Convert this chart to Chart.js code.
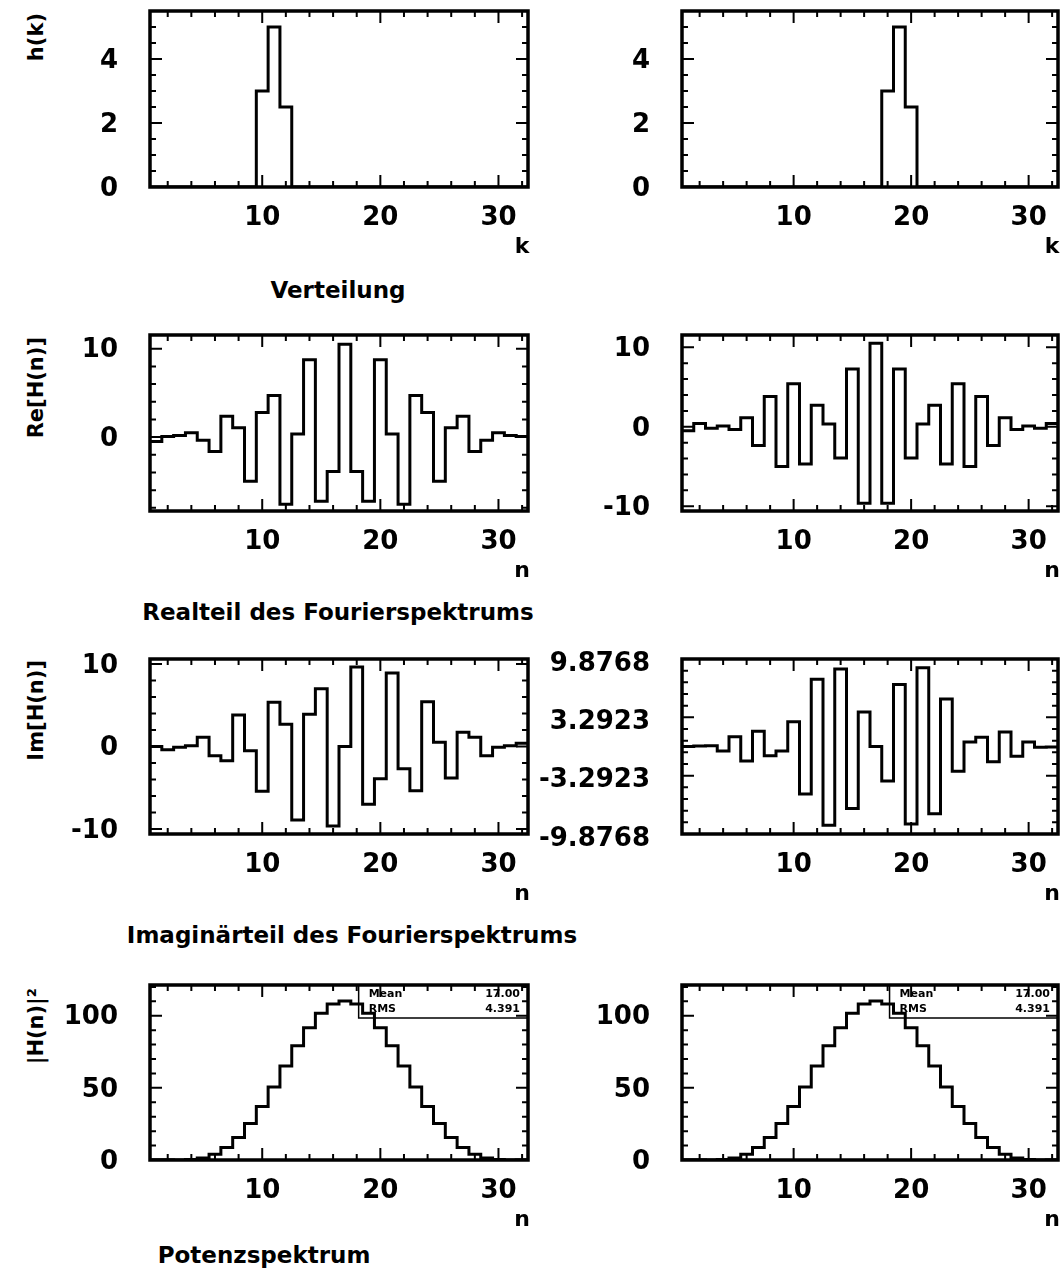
<!DOCTYPE html>
<html lang="de">
<head>
<meta charset="UTF-8">
<title>Verteilung und Fourierspektrum</title>
<script src="https://cdn.jsdelivr.net/npm/chart.js"></script>
<style>
  body { margin: 0; background: #fff; }
  #page { position: relative; width: 1063px; height: 1275px; overflow: hidden;
          font-family: "DejaVu Sans", sans-serif; font-weight: bold; color: #000; }
  .panel { position: absolute; }
  .txt { position: absolute; white-space: nowrap; line-height: 1; }
  .mitte { text-align: center; width: 600px; }
  .ytitel { position: absolute; white-space: nowrap; line-height: 1; font-size: 21px;
            writing-mode: vertical-rl; transform: rotate(180deg); }
</style>
</head>
<body>
<div id="page"></div>

<script>
// Kanaele 1..32
const bins = [1, 2, 3, 4, 5, 6, 7, 8, 9, 10, 11, 12, 13, 14, 15, 16,
              17, 18, 19, 20, 21, 22, 23, 24, 25, 26, 27, 28, 29, 30, 31, 32];

// Verteilungen h(k)
const hLinks  = [0, 0, 0, 0, 0, 0, 0, 0, 0, 3, 5, 2.5, 0, 0, 0, 0,
                 0, 0, 0, 0, 0, 0, 0, 0, 0, 0, 0, 0, 0, 0, 0, 0];
const hRechts = [0, 0, 0, 0, 0, 0, 0, 0, 0, 0, 0, 0, 0, 0, 0, 0,
                 0, 3, 5, 2.5, 0, 0, 0, 0, 0, 0, 0, 0, 0, 0, 0, 0];

// Realteil
const reLinks  = [-0.50, 0.06, 0.19, 0.50, -0.35, -1.64, 2.37, 1.05, -5.00, 2.78, 4.70, -7.60, 0.35, 8.74, -7.26, -3.89,
                  10.50, -3.89, -7.26, 8.74, 0.35, -7.60, 4.70, 2.78, -5.00, 1.05, 2.37, -1.64, -0.35, 0.50, 0.19, 0.06];
const reRechts = [-0.50, 0.40, -0.19, 0.09, -0.35, 1.13, -2.37, 3.82, -5.00, 5.42, -4.70, 2.70, 0.35, -3.92, 7.26, -9.64,
                  10.50, -9.64, 7.26, -3.92, 0.35, 2.70, -4.70, 5.42, -5.00, 3.82, -2.37, 1.13, -0.35, 0.09, -0.19, 0.40];

// Imaginaerteil
const imLinks  = [0.00, -0.40, -0.08, 0.09, 1.11, -1.13, -1.72, 3.82, -0.50, -5.42, 5.35, 2.70, -8.89, 3.92, 6.99, -9.64,
                  0.00, 9.64, -6.99, -3.92, 8.89, -2.70, -5.35, 5.42, 0.50, -3.82, 1.72, 1.13, -1.11, -0.09, 0.08, 0.40];
const imRechts = [0.00, 0.06, 0.08, -0.50, 1.11, -1.64, 1.72, -1.05, -0.50, 2.78, -5.35, 7.60, -8.89, 8.74, -6.99, 3.89,
                  0.00, -3.89, 6.99, -8.74, 8.89, -7.60, 5.35, -2.78, 0.50, 1.05, -1.72, 1.64, -1.11, 0.50, -0.08, -0.06];

// Potenzspektrum |H(n)|^2 (fuer beide Verteilungen gleich)
const potenz = [0.25, 0.17, 0.04, 0.26, 1.36, 3.95, 8.60, 15.67, 25.25, 37.12, 50.68, 65.07, 79.14, 91.72, 101.67, 108.06,
                110.25, 108.06, 101.67, 91.72, 79.14, 65.07, 50.68, 37.12, 25.25, 15.67, 8.60, 3.95, 1.36, 0.26, 0.04, 0.17];
const statistik = [['Mean', '17.00'], ['RMS', '4.391']];

// Achsenbeschriftungen
const xTicks   = [10, 20, 30];
const hTicks   = [0, 2, 4];
const reTicksL = [0, 10];
const reTicksR = [-10, 0, 10];
const imTicksL = [-10, 0, 10];
const imTicksR = [-9.8768, -3.2923, 3.2923, 9.8768];
const pTicks   = [0, 50, 100];

Chart.defaults.font.family = '"DejaVu Sans", sans-serif';
Chart.defaults.font.weight = 'bold';
Chart.defaults.color = '#000';

const page = document.getElementById('page');

// Histogramm als Treppe: ein Punkt je linker Kanalkante, dazu die rechte Endkante
function histPoints(werte) {
  const pts = bins.map((n, i) => ({ x: n - 0.5, y: werte[i] }));
  pts.push({ x: bins[bins.length - 1] + 0.5, y: werte[werte.length - 1] });
  return pts;
}

// Rahmen, Striche nach innen, Statistikbox
const pawRahmen = {
  id: 'pawRahmen',
  afterDatasetsDraw(chart) {
    const o = chart.options.plugins.pawRahmen;
    const { ctx, chartArea: a } = chart;
    const sx = chart.scales.x, sy = chart.scales.y;
    ctx.save();
    ctx.strokeStyle = '#000';
    ctx.lineWidth = 2;
    ctx.beginPath();
    for (let v = 2; v <= 32; v += 2) {
      const px = sx.getPixelForValue(v);
      const len = v % 10 === 0 ? 12 : 6;
      ctx.moveTo(px, a.bottom); ctx.lineTo(px, a.bottom - len);
      ctx.moveTo(px, a.top); ctx.lineTo(px, a.top + len);
    }
    const start = o.yOrigin + Math.ceil((sy.min - o.yOrigin) / o.yMinor - 1e-6) * o.yMinor;
    for (let v = start; v <= sy.max + 1e-6; v += o.yMinor) {
      const py = sy.getPixelForValue(v);
      const major = o.yTicks.some(t => Math.abs(t - v) < 1e-3);
      const len = major ? 12 : 6;
      ctx.moveTo(a.left, py); ctx.lineTo(a.left + len, py);
      ctx.moveTo(a.right, py); ctx.lineTo(a.right - len, py);
    }
    ctx.stroke();
    ctx.lineWidth = 3.5;
    ctx.strokeRect(a.left, a.top, a.right - a.left, a.bottom - a.top);

    if (o.stats) {
      const bx = a.left + 0.552 * (a.right - a.left);
      const by = a.top + 33;
      ctx.lineWidth = 1.5;
      ctx.beginPath();
      ctx.moveTo(bx, a.top); ctx.lineTo(bx, by); ctx.lineTo(a.right, by);
      ctx.stroke();
      ctx.fillStyle = '#000';
      ctx.font = 'bold 11px "DejaVu Sans", sans-serif';
      ctx.textBaseline = 'middle';
      o.stats.forEach(([name, wert], i) => {
        const ty = a.top + 9 + i * 15;
        ctx.textAlign = 'left';
        ctx.fillText(name, bx + 10, ty);
        ctx.textAlign = 'right';
        ctx.fillText(wert, a.right - 8, ty);
      });
    }
    ctx.restore();
  }
};

function panel(p) {
  const yw = p.yw || 90;
  const div = document.createElement('div');
  div.className = 'panel';
  div.style.left = (p.fl - yw) + 'px';
  div.style.top = (p.ft - 10) + 'px';
  div.style.width = (p.fr - p.fl + yw + 12) + 'px';
  div.style.height = (p.fb - p.ft + 60) + 'px';
  const cv = document.createElement('canvas');
  div.appendChild(cv);
  page.appendChild(div);

  new Chart(cv, {
    type: 'line',
    data: {
      datasets: [{
        data: histPoints(p.werte),
        stepped: 'before',
        borderColor: '#000',
        borderWidth: 3,
        pointRadius: 0,
        fill: false
      }]
    },
    options: {
      responsive: true,
      maintainAspectRatio: false,
      animation: false,
      events: [],
      layout: { padding: { top: 10, right: 12, left: 0, bottom: 0 } },
      plugins: {
        legend: { display: false },
        tooltip: { enabled: false },
        pawRahmen: { yTicks: p.yTicks, yMinor: p.yMinor, yOrigin: p.yOrigin || 0, stats: p.stats }
      },
      scales: {
        x: {
          type: 'linear', min: 0.5, max: 32.5,
          grid: { display: false, drawTicks: false },
          border: { display: false },
          afterBuildTicks: s => { s.ticks = xTicks.map(v => ({ value: v })); },
          afterFit: s => { s.height = 50; s.paddingLeft = 0; s.paddingRight = 0; },
          ticks: { autoSkip: false, maxRotation: 0, padding: 16, font: { size: 26 } }
        },
        y: {
          type: 'linear', min: p.yMin, max: p.yMax,
          grid: { display: false, drawTicks: false },
          border: { display: false },
          afterBuildTicks: s => { s.ticks = p.yTicks.map(v => ({ value: v })); },
          afterFit: s => { s.width = yw; s.paddingTop = 0; s.paddingBottom = 0; },
          ticks: {
            autoSkip: false, padding: 32, font: { size: 26 },
            labelOffset: p.dezimal ? 5 : 2,
            callback: v => p.dezimal ? v.toFixed(p.dezimal) : String(v)
          }
        }
      }
    },
    plugins: [pawRahmen]
  });
}

function text(str, cls, x, y, size, align) {
  const d = document.createElement('div');
  d.className = 'txt ' + (cls || '');
  d.style.fontSize = size + 'px';
  d.textContent = str;
  if (align === 'center') {
    d.style.left = (x - 300) + 'px';
  } else {
    d.style.left = x + 'px';
  }
  d.style.top = (y - size / 2) + 'px';
  page.appendChild(d);
}

function ytitel(str, x, y) {
  const d = document.createElement('div');
  d.className = 'ytitel';
  d.style.left = (x - 11) + 'px';
  d.style.top = y + 'px';
  d.textContent = str;
  page.appendChild(d);
}

const L = { fl: 150, fr: 528 }, R = { fl: 682, fr: 1058 };
const reihen = [[11, 187], [335, 511], [659, 834], [985, 1160]];

panel({ ...L, ft: reihen[0][0], fb: reihen[0][1], werte: hLinks,  yMin: 0, yMax: 5.5, yTicks: hTicks, yMinor: 0.5 });
panel({ ...R, ft: reihen[0][0], fb: reihen[0][1], werte: hRechts, yMin: 0, yMax: 5.5, yTicks: hTicks, yMinor: 0.5 });
panel({ ...L, ft: reihen[1][0], fb: reihen[1][1], werte: reLinks,  yMin: -8.36, yMax: 11.55, yTicks: reTicksL, yMinor: 2 });
panel({ ...R, ft: reihen[1][0], fb: reihen[1][1], werte: reRechts, yMin: -10.6, yMax: 11.55, yTicks: reTicksR, yMinor: 2 });
panel({ ...L, ft: reihen[2][0], fb: reihen[2][1], werte: imLinks,  yMin: -10.6, yMax: 10.6, yTicks: imTicksL, yMinor: 2 });
panel({ ...R, ft: reihen[2][0], fb: reihen[2][1], werte: imRechts, yMin: -9.8768, yMax: 9.8768, yTicks: imTicksR,
        yMinor: 1.31692, yOrigin: -9.8768, dezimal: 4, yw: 170 });
panel({ ...L, ft: reihen[3][0], fb: reihen[3][1], werte: potenz, yMin: 0, yMax: 121.3, yTicks: pTicks, yMinor: 10, stats: statistik });
panel({ ...R, ft: reihen[3][0], fb: reihen[3][1], werte: potenz, yMin: 0, yMax: 121.3, yTicks: pTicks, yMinor: 10, stats: statistik });

// Achsentitel
ytitel('h(k)', 37, 13);
ytitel('Re[H(n)]', 37, 337);
ytitel('Im[H(n)]', 37, 660);
ytitel('|H(n)|²', 37, 988);

reihen.forEach(([ft, fb], i) => {
  const t = i === 0 ? 'k' : 'n';
  text(t, 'mitte', 522, fb + 59, 22, 'center');
  text(t, 'mitte', 1052, fb + 59, 22, 'center');
});

// Unterschriften
text('Verteilung', 'mitte', 338, 290, 23, 'center');
text('Realteil des Fourierspektrums', 'mitte', 338, 612, 23, 'center');
text('Imaginärteil des Fourierspektrums', 'mitte', 352, 935, 23, 'center');
text('Potenzspektrum', 'mitte', 264, 1255, 23, 'center');
</script>
</body>
</html>
